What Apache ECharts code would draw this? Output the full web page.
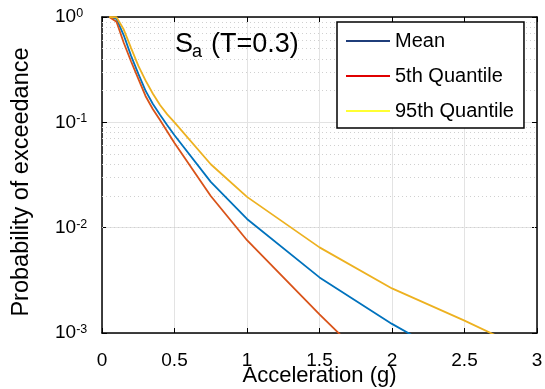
<!DOCTYPE html>
<html>
<head>
<meta charset="utf-8">
<script src="https://cdn.jsdelivr.net/npm/echarts@6/dist/echarts.min.js"></script>
<style>
  html, body { margin: 0; padding: 0; background: #fff; }
  #chart { width: 545px; height: 389px; }
</style>
</head>
<body>
<div id="chart"></div>
<script>
// ---- Data ----
const accel = [0.05, 0.1, 0.15, 0.2, 0.25, 0.3, 0.35, 0.4, 0.45, 0.5, 0.75, 1.0, 1.5, 2.0, 2.5, 3.0];
const meanPoE = [1.0, 0.96, 0.67, 0.43, 0.29, 0.20, 0.150, 0.118, 0.094, 0.0753, 0.0272, 0.0121, 0.00337, 0.00122, 0.0005, null];
const q05PoE  = [1.0, 0.90, 0.57, 0.38, 0.26, 0.178, 0.134, 0.105, 0.082, 0.0637, 0.020, 0.0076, 0.0015, 0.00032, null, null];
const q95PoE  = [1.0, 0.995, 0.76, 0.51, 0.345, 0.25, 0.188, 0.146, 0.119, 0.100, 0.040, 0.0196, 0.0065, 0.00265, 0.00131, 0.00062];
const seriesNames = ['Mean', '5th Quantile', '95th Quantile'];
const xTicks = { min: 0, max: 3, step: 0.5 };
const yRange = { min: 0.001, max: 1 };

const FONT = "'Liberation Sans', Arial, Helvetica, sans-serif";
const lineColors = ['#0072BD', '#D95319', '#EDB120'];
const legendColors = ['#1f3d7a', '#e00000', '#ffff33'];

function pairs(vals) {
  return accel.map((x, i) => [x, vals[i]]).filter(p => p[1] != null);
}

// minor (dotted) grid values at 2..9 x 10^k
const minorGrid = [];
for (let e = -3; e < 0; e++) {
  for (let k = 2; k <= 9; k++) minorGrid.push(k * Math.pow(10, e));
}

const chart = echarts.init(document.getElementById('chart'), null, { renderer: 'canvas' });

const yLabelFormatter = function (v) {
  const e = Math.round(Math.log10(v));
  return '{b|10}{s|' + e + '}';
};

const curveSeries = [meanPoE, q05PoE, q95PoE].map((vals, i) => ({
  name: seriesNames[i], type: 'line', data: pairs(vals), showSymbol: false, symbol: 'none',
  lineStyle: { color: lineColors[i], width: 1.8, type: 'solid' },
  itemStyle: { color: lineColors[i] }, z: 3, clip: true
}));

const option = {
  animation: false,
  backgroundColor: '#fff',
  textStyle: { fontFamily: FONT },
  grid: { left: 102, right: 8, top: 17, bottom: 56, containLabel: false, outerBoundsMode: 'none' },
  graphic: [
    { type: 'text', x: 175, y: 45, z: 20, style: { text: 'S', fill: '#000', font: '27px ' + FONT, textAlign: 'left', textVerticalAlign: 'middle' } },
    { type: 'text', x: 192, y: 52, z: 20, style: { text: 'a', fill: '#000', font: '18px ' + FONT, textAlign: 'left', textVerticalAlign: 'middle' } },
    { type: 'text', x: 211, y: 45, z: 20, style: { text: '(T=0.3)', fill: '#000', font: '27px ' + FONT, textAlign: 'left', textVerticalAlign: 'middle' } }
  ],
  legend: {
    orient: 'vertical',
    left: 337, top: 22,
    padding: [9, 10, 7, 9],
    itemGap: 15,
    itemWidth: 44, itemHeight: 2,
    backgroundColor: '#fff',
    borderColor: '#000', borderWidth: 1.5,
    z: 10,
    textStyle: { fontSize: 20, color: '#000', fontFamily: FONT },
    data: seriesNames.map((n, i) => ({
      name: n, icon: 'rect',
      itemStyle: { color: legendColors[i], borderWidth: 0 },
      lineStyle: { color: legendColors[i], type: 'solid', width: 2 }
    }))
  },
  xAxis: [
    {
      type: 'value', min: xTicks.min, max: xTicks.max, interval: xTicks.step,
      position: 'bottom',
      name: 'Acceleration (g)', nameLocation: 'middle', nameGap: 32, nameMoveOverlap: false,
      nameTextStyle: { fontSize: 22, color: '#000', fontFamily: FONT },
      axisLine: { show: true, onZero: false, lineStyle: { color: '#000', width: 1.5 } },
      axisTick: { show: true, inside: true, length: 5, lineStyle: { color: '#000', width: 1 } },
      axisLabel: { fontSize: 19, color: '#000', margin: 18, fontFamily: FONT },
      splitLine: { show: true, lineStyle: { color: '#e3e3e3', width: 1 } }
    },
    {
      type: 'value', min: xTicks.min, max: xTicks.max, interval: xTicks.step,
      position: 'top',
      axisLine: { show: true, onZero: false, lineStyle: { color: '#000', width: 1.5 } },
      axisTick: { show: true, inside: true, length: 5, lineStyle: { color: '#000', width: 1 } },
      axisLabel: { show: false },
      splitLine: { show: false }
    }
  ],
  yAxis: [
    {
      type: 'log', logBase: 10, min: yRange.min, max: yRange.max,
      position: 'left',
      name: 'Probability of exceedance', nameLocation: 'middle', nameGap: 68, nameMoveOverlap: false,
      nameRotate: 90,
      nameTextStyle: { fontSize: 23.5, color: '#000', fontFamily: FONT, padding: [0, 14, 0, 0] },
      axisLine: { show: true, onZero: false, lineStyle: { color: '#000', width: 1.5 } },
      axisTick: { show: true, inside: true, length: 5, lineStyle: { color: '#000', width: 1 } },
      axisLabel: {
        formatter: yLabelFormatter, align: 'left', margin: 47,
        rich: {
          b: { fontSize: 19, lineHeight: 20, color: '#000', fontFamily: FONT },
          s: { fontSize: 12.5, lineHeight: 12, verticalAlign: 'top', color: '#000', fontFamily: FONT }
        }
      },
      splitLine: { show: true, lineStyle: { color: '#e3e3e3', width: 1 } }
    },
    {
      type: 'log', logBase: 10, min: yRange.min, max: yRange.max,
      position: 'right',
      axisLine: { show: true, onZero: false, lineStyle: { color: '#000', width: 1.5 } },
      axisTick: { show: true, inside: true, length: 5, lineStyle: { color: '#000', width: 1 } },
      axisLabel: { show: false },
      splitLine: { show: false }
    }
  ],
  series: curveSeries.concat([
    {
      name: '__minorgrid', type: 'line', data: [], z: 1, silent: true,
      markLine: {
        z: 1,
        silent: true, symbol: 'none', label: { show: false },
        lineStyle: { type: [1, 3], color: '#d0d0d0', width: 1 },
        data: minorGrid.map(v => ({ yAxis: v }))
      }
    }
  ])
};

chart.setOption(option);
</script>
</body>
</html>
